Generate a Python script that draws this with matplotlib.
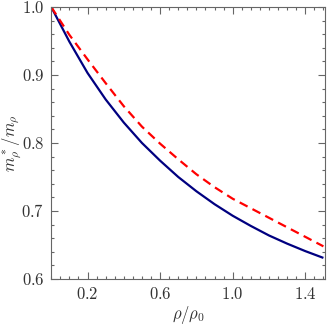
import matplotlib
matplotlib.use("Agg")
import matplotlib.pyplot as plt
from matplotlib.ticker import MultipleLocator, FixedLocator

# values
rho = [0.0, 0.1, 0.2, 0.3, 0.4, 0.5, 0.6, 0.7, 0.8, 0.9, 1.0, 1.1, 1.2, 1.3, 1.4, 1.5]
mass_solid = [1.0, 0.949, 0.903, 0.864, 0.830, 0.800, 0.774, 0.750, 0.729, 0.710,
              0.693, 0.678, 0.664, 0.652, 0.641, 0.631]
mass_dashed = [1.0, 0.959, 0.923, 0.888, 0.854, 0.824, 0.799, 0.776, 0.754, 0.735,
               0.718, 0.704, 0.690, 0.676, 0.662, 0.648]
xticks = [0.2, 0.6, 1.0, 1.4]
yticks = [0.6, 0.7, 0.8, 0.9, 1.0]

plt.rcParams['mathtext.fontset'] = 'cm'
plt.rcParams['font.family'] = 'serif'
plt.rcParams['font.serif'] = ['DejaVu Serif']

fig = plt.figure(figsize=(3.27, 3.27), dpi=100)
ax = fig.add_axes([0.1566, 0.1468, 0.838, 0.832])

ax.plot(rho, mass_solid, color='#000080', lw=1.6, solid_capstyle='butt')
ax.plot(rho, mass_dashed, color='#ff0000', lw=1.6, dashes=(4, 2.5))

ax.set_xlim(0, 1.51)
ax.set_ylim(0.6, 1.0)

ax.xaxis.set_major_locator(FixedLocator(xticks))
ax.xaxis.set_minor_locator(MultipleLocator(0.05))
ax.yaxis.set_major_locator(FixedLocator(yticks))
ax.yaxis.set_minor_locator(MultipleLocator(0.02))
ax.set_xticklabels([r'$%.1f$' % v for v in xticks])
ax.set_yticklabels([r'$%.1f$' % v for v in yticks])

grey = '#666666'
for s in ax.spines.values():
    s.set_color(grey)
    s.set_linewidth(0.8)
ax.tick_params(which='both', direction='in', top=True, right=True, color=grey,
               labelcolor='#333333', labelsize=12, width=0.8)
ax.tick_params(which='major', length=5, pad=5)
ax.tick_params(which='minor', length=2.5)

ax.set_xlabel(r'$\rho/\rho_0$', fontsize=12, color='#333333', labelpad=1)
ax.set_ylabel(r'$m_\rho^*/m_\rho$', fontsize=12, color='#333333', labelpad=-1)

fig.savefig('out.png', dpi=100)
